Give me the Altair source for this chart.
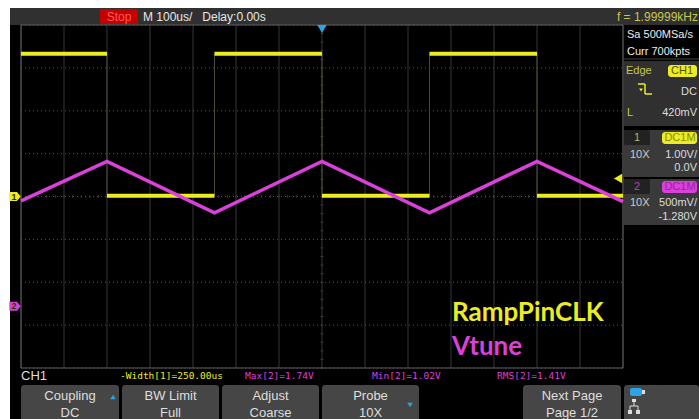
import altair as alt
import pandas as pd

# ---------------- scope settings ----------------
time_div_us = 100          # M 100us/
ch1_volts_div = 1.0        # CH1 1.00V/
ch1_offset = 0.0
ch2_volts_div = 0.5        # CH2 500mV/
ch2_offset = -1.28
trig_level = 0.42          # L 420mV (CH1)

# ---------------- CH1 : RampPinCLK square wave (time us, volts) ----------------
sq_seg_start = [-700, -500, -250, 0, 250, 500]
sq_seg_end = [-500, -250, 0, 250, 500, 700]
sq_seg_volts = [3.33, 0.02, 3.33, 0.02, 3.33, 0.02]
sq_edges = [-500, -250, 0, 250, 500]

# ---------------- CH2 : Vtune triangle (time us, volts) ----------------
tri_t = [-700, -500, -250, 0, 250, 500, 700]
tri_v = [1.23, 1.69, 1.09, 1.69, 1.09, 1.69, 1.22]

# grid
grid_t = list(range(-700, 701, 100))
grid_div = list(range(-4, 5))
minor_t = list(range(-700, 701, 20))
minor_div = [i / 5 for i in range(-20, 21)]

YELLOW = "#ecec24"
MAGENTA = "#da40da"
BLUE = "#2aa4e4"
UI_FONT = "Liberation Sans"
MONO = "DejaVu Sans Mono"
NB = "\u00a0"

xs = alt.Scale(domain=[-700, 700], range=[21, 623])
ys = alt.Scale(domain=[-4, 4], range=[368, 25])

ONE = alt.Data(values=[{"k": 1}])


def box(x1, x2, y1, y2, color, **kw):
    return alt.Chart(ONE).mark_rect(color=color, **kw).encode(
        x=alt.value(x1), x2=alt.value(x2), y=alt.value(y1), y2=alt.value(y2))


def line(x1, x2, y1, y2, color, w=1, **kw):
    return alt.Chart(ONE).mark_rule(color=color, strokeWidth=w, **kw).encode(
        x=alt.value(x1), x2=alt.value(x2), y=alt.value(y1), y2=alt.value(y2))


def label(txt, x, y, color="#dddddd", size=12, align="left", font=UI_FONT,
          weight="normal"):
    return alt.Chart(ONE).mark_text(text=txt, color=color, fontSize=size, align=align,
                                    baseline="middle", font=font,
                                    fontWeight=weight).encode(
        x=alt.value(x), y=alt.value(y))


def sym(shape, x, y, color, size):
    return alt.Chart(ONE).mark_point(shape=shape, filled=True, color=color, size=size,
                                     opacity=1, strokeWidth=0).encode(
        x=alt.value(x), y=alt.value(y))


layers = []
# screen background
layers.append(box(10, 699, 8, 419, "#000000"))
# header bar
layers.append(box(10, 699, 8, 25, "#303030"))
layers.append(box(100, 138, 9, 24, "#c40000"))
layers.append(label("Stop", 119, 17, "#ff5a5a", 12, "center"))
layers.append(label("M 100us/" + NB + NB + " Delay:0.00s", 143, 17, "#e8e8e8", 12))
layers.append(label("f = 1.99999kHz", 698, 17, "#c8c850", 12, "right"))

# grid
gv = pd.DataFrame({"t": grid_t})
gh = pd.DataFrame({"d": grid_div})
layers.append(alt.Chart(gv).mark_rule(color="#363636", strokeWidth=1).encode(
    x=alt.X("t:Q", scale=xs, axis=None), y=alt.value(25), y2=alt.value(368)))
layers.append(alt.Chart(gh).mark_rule(color="#555555", strokeWidth=1, strokeDash=[1, 3]).encode(
    y=alt.Y("d:Q", scale=ys, axis=None), x=alt.value(21), x2=alt.value(623)))
mt = pd.DataFrame({"t": minor_t, "d": 0})
md = pd.DataFrame({"d": minor_div, "t": 0})
layers.append(alt.Chart(mt).mark_tick(color="#4a4a4a", orient="vertical", size=3, thickness=1).encode(
    x=alt.X("t:Q", scale=xs), y=alt.Y("d:Q", scale=ys)))
layers.append(alt.Chart(md).mark_tick(color="#4a4a4a", orient="horizontal", size=3, thickness=1).encode(
    x=alt.X("t:Q", scale=xs), y=alt.Y("d:Q", scale=ys)))
# plot border
layers.append(alt.Chart(ONE).mark_rect(fillOpacity=0, stroke="#5c5c5c", strokeWidth=1).encode(
    x=alt.value(21), x2=alt.value(623), y=alt.value(25), y2=alt.value(368)))

# CH1 square
sq = pd.DataFrame({"t0": sq_seg_start, "t1": sq_seg_end, "v": sq_seg_volts})
sq["d"] = (sq["v"] + ch1_offset) / ch1_volts_div
edges = pd.DataFrame({"t": sq_edges, "d0": (min(sq_seg_volts) + ch1_offset) / ch1_volts_div,
                      "d1": (max(sq_seg_volts) + ch1_offset) / ch1_volts_div})
layers.append(alt.Chart(edges).mark_rule(color="#4a4a38", strokeWidth=1).encode(
    x=alt.X("t:Q", scale=xs), y=alt.Y("d0:Q", scale=ys), y2="d1:Q"))
layers.append(alt.Chart(sq).mark_rule(color=YELLOW, strokeWidth=4).encode(
    x=alt.X("t0:Q", scale=xs), x2="t1:Q", y=alt.Y("d:Q", scale=ys)))

# CH2 triangle
tri = pd.DataFrame({"t": tri_t, "v": tri_v})
tri["d"] = (tri["v"] + ch2_offset) / ch2_volts_div
layers.append(alt.Chart(tri).mark_line(color=MAGENTA, strokeWidth=3.5, strokeJoin="miter").encode(
    x=alt.X("t:Q", scale=xs), y=alt.Y("d:Q", scale=ys)))

# trigger position marker
layers.append(alt.Chart(pd.DataFrame({"t": [0]})).mark_point(
    shape="triangle-down", filled=True, color=BLUE, size=90, opacity=1).encode(
    x=alt.X("t:Q", scale=xs), y=alt.value(29)))
# trigger level marker
layers.append(alt.Chart(pd.DataFrame({"d": [trig_level / ch1_volts_div]})).mark_point(
    shape="triangle-left", filled=True, color=YELLOW, size=90, opacity=1).encode(
    y=alt.Y("d:Q", scale=ys), x=alt.value(618)))
# channel ground markers
pent = "M-1,-0.8L0.35,-0.8L1,0L0.35,0.8L-1,0.8Z"
chm = pd.DataFrame({"d": [ch1_offset / ch1_volts_div, ch2_offset / ch2_volts_div],
                    "lab": ["1", "2"], "c": [YELLOW, MAGENTA]})
layers.append(alt.Chart(chm).mark_point(shape=pent, filled=True, size=130, opacity=1).encode(
    y=alt.Y("d:Q", scale=ys), x=alt.value(15), color=alt.Color("c:N", scale=None)))
layers.append(alt.Chart(chm).mark_text(fontSize=9, fontWeight="bold", color="#333300",
                                       font=UI_FONT).encode(
    y=alt.Y("d:Q", scale=ys), x=alt.value(14), text="lab:N"))

# side panel
layers.append(label("Sa 500MSa/s", 627, 35, "#eeeeee", 11))
layers.append(label("Curr 700kpts", 627, 52, "#eeeeee", 11))
layers.append(line(624, 699, 59, 59, "#444444"))
layers.append(box(624, 699, 61, 126, "#303030"))
layers.append(label("Edge", 626, 71, "#c8c850", 11))
layers.append(box(668, 697, 65, 77, YELLOW, cornerRadius=3))
layers.append(label("CH1", 682, 71, "#55550a", 11, "center"))
layers.append(line(638, 645, 84, 84, YELLOW, 1.5))
layers.append(line(645, 645, 84, 94, YELLOW, 1.5))
layers.append(line(645, 652, 94, 94, YELLOW, 1.5))
layers.append(sym("triangle-down", 641, 90, YELLOW, 14))
layers.append(label("DC", 697, 92, "#dddddd", 11, "right"))
layers.append(label("L", 627, 113, "#c8c850", 11))
layers.append(label("420mV", 697, 113, "#dddddd", 11, "right"))

layers.append(box(624, 699, 130, 177, "#3a3a3a"))
layers.append(box(624, 650, 130, 145, "#222222"))
layers.append(label("1", 634, 138, "#b8b860", 11))
layers.append(box(662, 697, 132, 144, YELLOW, cornerRadius=3))
layers.append(label("DC1M", 680, 138, "#8a8a10", 11, "center"))
layers.append(label("10X", 630, 155, "#cccccc", 11))
layers.append(label("1.00V/", 697, 155, "#dddddd", 11, "right"))
layers.append(label("0.0V", 697, 168, "#dddddd", 11, "right"))

layers.append(box(624, 699, 179, 225, "#3a3a3a"))
layers.append(box(624, 650, 179, 194, "#222222"))
layers.append(label("2", 634, 187, "#b040b0", 11))
layers.append(box(662, 697, 181, 193, MAGENTA, cornerRadius=3))
layers.append(label("DC1M", 680, 187, "#a020a0", 11, "center"))
layers.append(label("10X", 630, 203, "#cccccc", 11))
layers.append(label("500mV/", 697, 203, "#dddddd", 11, "right"))
layers.append(label("-1.280V", 697, 217, "#dddddd", 11, "right"))

# trace names
layers.append(label("RampPinCLK", 452, 313, YELLOW, 26, font="Lato", weight="bold"))
layers.append(label("Vtune", 452, 347, MAGENTA, 26, font="Lato", weight="bold"))

# bottom status line
layers.append(label("CH1", 21, 376, "#dddddd", 13))
layers.append(label("-Width[1]=250.00us", 120, 376, YELLOW, 9.5, font=MONO))
layers.append(label("Max[2]=1.74V", 245, 376, MAGENTA, 9.5, font=MONO))
layers.append(label("Min[2]=1.02V", 372, 376, MAGENTA, 9.5, font=MONO))
layers.append(label("RMS[2]=1.41V", 497, 376, MAGENTA, 9.5, font=MONO))

# buttons
buttons = [(21, 119, "Coupling", "DC"), (122, 219, "BW Limit", "Full"),
           (222, 319, "Adjust", "Coarse"), (322, 419, "Probe", "10X"),
           (523, 621, "Next Page", "Page 1/2")]
for x1, x2, t1, t2 in buttons:
    layers.append(box(x1, x2, 385, 419, "#464646", cornerRadiusTopLeft=3,
                      cornerRadiusTopRight=3))
    layers.append(label(t1, (x1 + x2) / 2, 396, "#dedede", 13, "center"))
    layers.append(label(t2, (x1 + x2) / 2, 413, "#dedede", 13, "center"))
layers.append(sym("triangle-up", 113, 397, BLUE, 30))
layers.append(sym("triangle-down", 410, 405, BLUE, 30))
layers.append(box(624, 699, 385, 419, "#464646", cornerRadiusTopLeft=3,
                  cornerRadiusTopRight=3))
layers.append(box(630, 642, 388, 396, BLUE, cornerRadius=2))
layers.append(box(642, 645, 390, 394, "#dddddd"))
layers.append(line(634, 634, 401, 406, "#dddddd", 1))
layers.append(line(630, 638, 406, 406, "#dddddd", 1))
layers.append(line(630, 630, 406, 410, "#dddddd", 1))
layers.append(line(638, 638, 406, 410, "#dddddd", 1))
layers.append(box(632, 636, 399, 402, "#dddddd"))
layers.append(box(628, 632, 410, 414, "#dddddd"))
layers.append(box(636, 640, 410, 414, "#dddddd"))

chart = alt.layer(*layers).properties(
    width=699, height=419, padding=0,
    autosize=alt.AutoSizeParams(type="none"),
    background="white",
).configure_view(stroke=None)

chart.save("out.html", embed_options={"renderer": "svg", "actions": False})
